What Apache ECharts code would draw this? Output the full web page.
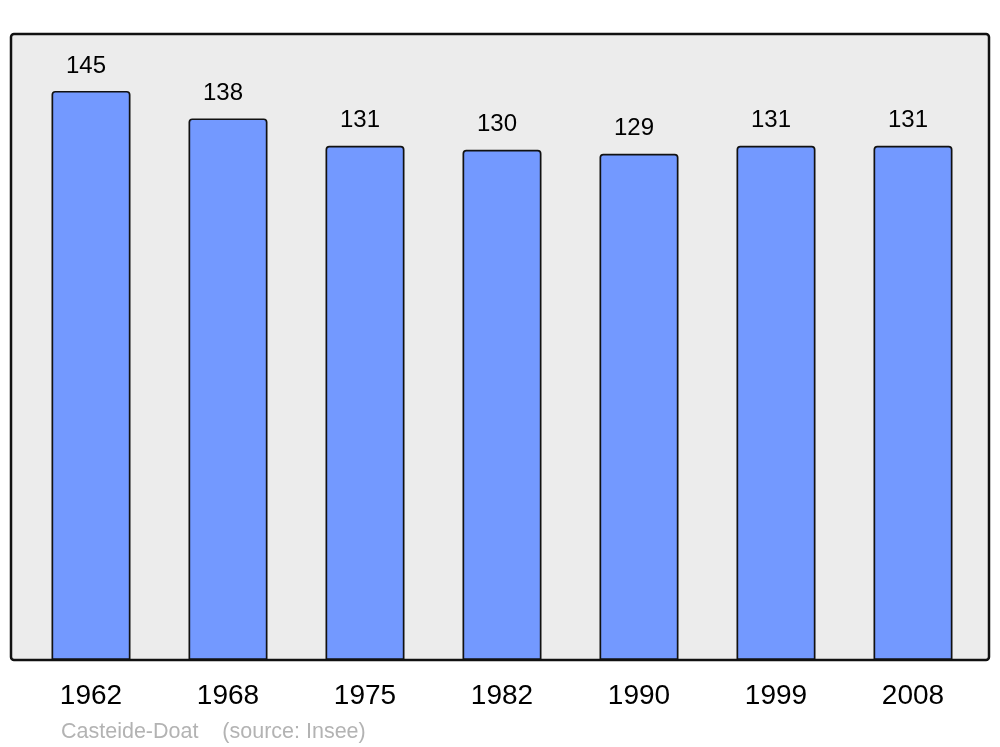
<!DOCTYPE html>
<html>
<head>
<meta charset="utf-8">
<script src="https://cdn.jsdelivr.net/npm/echarts@6/dist/echarts.min.js"></script>
<style>html,body{margin:0;padding:0;background:#fff}#c{width:1000px;height:747px}</style>
</head>
<body>
<div id="c"></div>
<script>
const years = ['1962', '1968', '1975', '1982', '1990', '1999', '2008'];
const population = [145, 138, 131, 130, 129, 131, 131];
const sourceText = 'Casteide-Doat    (source: Insee)';

const chart = echarts.init(document.getElementById('c'), null, {renderer: 'canvas'});
chart.setOption({
  animation: false,
  backgroundColor: '#ffffff',
  title: {
    text: sourceText,
    left: 56,
    top: 721,
    padding: [0, 5, 0, 5],
    textStyle: {fontFamily: 'Liberation Sans', fontSize: 21.5, fontWeight: 'normal', color: '#b3b3b3'}
  },
  graphic: [{
    type: 'rect',
    z: -10,
    shape: {x: 11, y: 34, width: 978, height: 626, r: 3},
    style: {fill: '#ececec', stroke: '#111111', lineWidth: 2.5}
  }],
  grid: {left: 22.5, right: 18.5, top: 34, bottom: 87, containLabel: false},
  xAxis: {
    type: 'category',
    data: years,
    axisLine: {show: false},
    axisTick: {show: false},
    axisLabel: {fontFamily: 'Liberation Sans', fontSize: 28, color: '#000', margin: 22}
  },
  yAxis: {
    type: 'value',
    min: 0,
    max: 159.5,
    show: false,
    splitLine: {show: false}
  },
  series: [{
    type: 'bar',
    data: population,
    barWidth: 79,
    itemStyle: {color: '#7399ff', borderColor: '#111111', borderWidth: 1.7, borderRadius: [3, 3, 0, 0]},
    label: {show: true, position: 'top', distance: 13, offset: [-5, 0], fontFamily: 'Liberation Sans', fontSize: 24, color: '#000'}
  }]
});
</script>
</body>
</html>
